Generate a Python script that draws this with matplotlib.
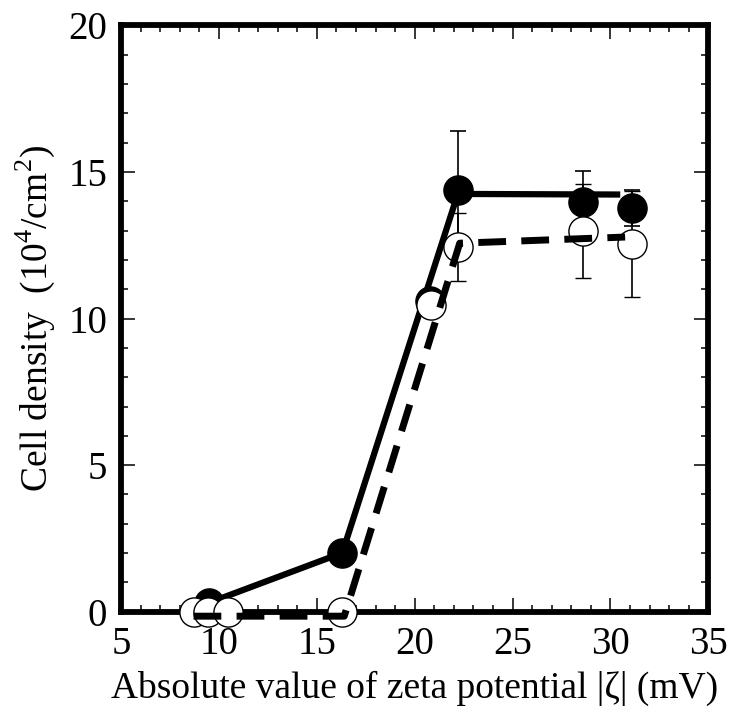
import matplotlib
matplotlib.use('Agg')
import matplotlib.pyplot as plt
from matplotlib.ticker import MultipleLocator

plt.rcParams['font.family'] = ['Liberation Serif', 'DejaVu Serif']
plt.rcParams['mathtext.fontset'] = 'custom'
plt.rcParams['mathtext.rm'] = 'Liberation Serif'

# filled circles
fill_x = [9.5, 16.3, 20.8, 22.2, 28.6, 31.1]
fill_y = [0.31, 2.01, 10.6, 14.38, 13.97, 13.76]
fill_err = [0, 0, 0, 2.02, 1.07, 0.62]

# open circles
open_x = [8.7, 9.45, 10.45, 16.3, 20.85, 22.2, 28.6, 31.1]
open_y = [0, 0, 0, 0, 10.46, 12.44, 12.98, 12.54]
open_err = [0, 0, 0, 0, 0, 1.16, 1.6, 1.8]

# guide lines
solid_x = [9.5, 16.3, 22.2, 30.5]
solid_y = [0.31, 2.01, 14.25, 14.23]
dash_x = [8.7, 16.4, 22.3, 30.75]
dash_y = [-0.15, -0.15, 12.57, 12.78]

fig = plt.figure(figsize=(7.34, 7.24), dpi=100)
ax = fig.add_axes([0.165, 0.155, 0.8, 0.81])

ax.plot(solid_x, solid_y, color='black', lw=4.5, solid_capstyle='butt', zorder=2)
ax.errorbar(fill_x, fill_y, yerr=fill_err, fmt='o', color='black', ms=21,
            mfc='black', mec='black', ecolor='black', elinewidth=1.2,
            capsize=6, capthick=1.2, zorder=3, clip_on=False)
ax.errorbar(open_x, open_y, yerr=open_err, fmt='o', ms=21, mfc='white',
            mec='black', mew=1, ecolor='black', elinewidth=1.2,
            capsize=6, capthick=1.2, zorder=4, clip_on=False)
ax.plot(dash_x, dash_y, color='black', lw=5, dashes=(4, 2.2), zorder=5,
        clip_on=False, dash_capstyle='butt')

ax.set_xlim(5, 35)
ax.set_ylim(0, 20)
ax.xaxis.set_major_locator(MultipleLocator(5))
ax.xaxis.set_minor_locator(MultipleLocator(1))
ax.yaxis.set_major_locator(MultipleLocator(5))
ax.yaxis.set_minor_locator(MultipleLocator(1))
ax.tick_params(which='both', direction='in', top=True, right=True,
               width=1.1, labelsize=28, pad=10)
ax.tick_params(which='major', length=10)
ax.tick_params(which='minor', length=5)
for s in ax.spines.values():
    s.set_linewidth(4.2)

ax.set_xlabel('Absolute value of zeta potential |\u03b6| (mV)', fontsize=27, labelpad=6)
ax.set_ylabel(r'Cell density  (10$^{4}$/cm$^{2}$)', fontsize=27, labelpad=8)

fig.savefig('out.png', dpi=100)
